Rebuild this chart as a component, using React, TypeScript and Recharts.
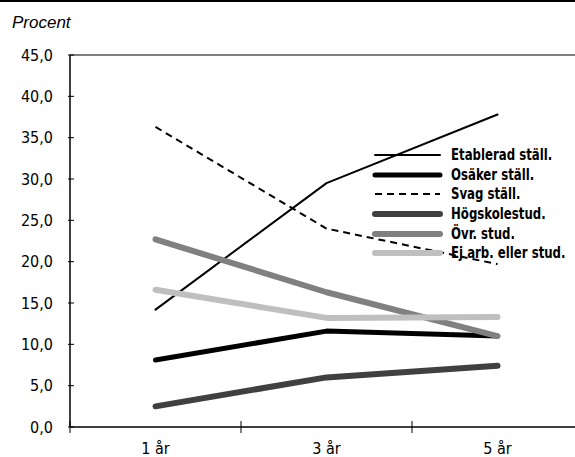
import React from 'react';
import { LineChart, Line, XAxis, YAxis, Legend, ReferenceLine } from 'recharts';

const periods = ['1 år', '3 år', '5 år'];
const etablerad = [14.2, 29.5, 37.8];
const osaker = [8.1, 11.6, 11.0];
const svag = [36.3, 24.0, 19.7];
const hogskole = [2.5, 6.0, 7.4];
const ovrStud = [22.7, 16.3, 11.0];
const ejArb = [16.6, 13.2, 13.3];
const yTicks = [0, 5, 10, 15, 20, 25, 30, 35, 40, 45];

const series = [
  { key: 'etablerad', name: 'Etablerad ställ.', values: etablerad, color: '#000000', width: 2, dash: undefined },
  { key: 'osaker', name: 'Osäker ställ.', values: osaker, color: '#000000', width: 5, dash: undefined },
  { key: 'svag', name: 'Svag ställ.', values: svag, color: '#000000', width: 2, dash: '7 5' },
  { key: 'hogskole', name: 'Högskolestud.', values: hogskole, color: '#404040', width: 6, dash: undefined },
  { key: 'ovr', name: 'Övr. stud.', values: ovrStud, color: '#808080', width: 6, dash: undefined },
  { key: 'ejarb', name: 'Ej arb. eller stud.', values: ejArb, color: '#bfbfbf', width: 6, dash: undefined },
];

const data = periods.map((p, i) => {
  const row: Record<string, any> = { period: p };
  series.forEach((s) => {
    row[s.key] = s.values[i];
  });
  return row;
});

const FONT = '"Liberation Sans Narrow", "DejaVu Sans Condensed", sans-serif';

const LegendContent = () => (
  <div style={{ fontFamily: FONT, fontWeight: 'bold', fontSize: 15, color: '#000' }}>
    {series.map((s) => (
      <div key={s.key} style={{ display: 'flex', alignItems: 'center', height: 19.7, whiteSpace: 'nowrap' }}>
        <svg width={69} height={12} style={{ display: 'block', overflow: 'visible' }}>
          <line
            x1={2}
            x2={67}
            y1={6}
            y2={6}
            stroke={s.color}
            strokeWidth={s.width}
            strokeDasharray={s.dash}
            strokeLinecap={s.dash ? 'butt' : 'round'}
          />
        </svg>
        <span
          style={{
            marginLeft: 9,
            display: 'inline-block',
            transform: 'scaleX(0.87)',
            transformOrigin: 'left center',
          }}
        >
          {s.name}
        </span>
      </div>
    ))}
  </div>
);

const fmt = (v: number) => v.toFixed(1).replace('.', ',');

// Category tick: label at the band centre, tick marks at the band boundaries.
const CatTick = (props: any) => {
  const { x, y, payload, index, visibleTicksCount } = props;
  const half = typeof payload?.offset === 'number' ? payload.offset : 0;
  const left = x - half;
  const right = x + half;
  const isLast = index === (visibleTicksCount ?? periods.length) - 1;
  return (
    <g>
      {half > 0 && <line x1={left} x2={left} y1={y - 6} y2={y + 6} stroke="#000" strokeWidth={1} />}
      {half > 0 && isLast && <line x1={right} x2={right} y1={y - 6} y2={y + 6} stroke="#000" strokeWidth={1} />}
      <text x={x} y={y + 16} dy="0.71em" textAnchor="middle" fill="#000" fontFamily={FONT} fontSize={16}>
        {payload.value}
      </text>
    </g>
  );
};

export default function App() {
  return (
    <div style={{ position: 'fixed', left: 0, top: 0, width: 575, height: 457, overflow: 'hidden', background: '#fff' }}>
      <div style={{ position: 'absolute', left: 0, top: 0, width: 575, height: 2, background: '#000' }} />
      <svg style={{ position: 'absolute', left: 0, top: 0 }} width={200} height={40}>
        <text x={12} y={28} fontFamily='"Liberation Sans", Arial, sans-serif' fontStyle="italic" fontSize={17} fill="#000">
          Procent
        </text>
      </svg>
      <div style={{ position: 'absolute', left: 0, top: 0 }}>
        <LineChart width={600} height={457} data={data} margin={{ top: 55, right: 17, bottom: 29, left: 8 }}>
          <XAxis
            dataKey="period"
            type="category"
            scale="band"
            height={1}
            axisLine={{ stroke: '#000', strokeWidth: 1.5 }}
            tickLine={false}
            tickSize={0}
            tickMargin={0}
            interval={0}
            tick={<CatTick />}
          />
          <YAxis
            domain={[0, 45]}
            ticks={yTicks}
            interval={0}
            width={62}
            tickFormatter={fmt}
            tickSize={6}
            tickMargin={11}
            axisLine={{ stroke: '#000', strokeWidth: 1.5 }}
            tickLine={{ stroke: '#000', strokeWidth: 1, transform: 'translate(4,0)' }}
            tick={{ fill: '#000', fontFamily: FONT, fontSize: 16 }}
          />
          <ReferenceLine y={45} stroke="#7f7f7f" strokeWidth={2} />
          {series.map((s) => (
            <Line
              key={s.key}
              dataKey={s.key}
              name={s.name}
              stroke={s.color}
              strokeWidth={s.width}
              strokeDasharray={s.dash}
              strokeLinecap={s.dash ? 'butt' : 'round'}
              strokeLinejoin="round"
              dot={false}
              activeDot={false}
              isAnimationActive={false}
            />
          ))}
          <Legend
            layout="horizontal"
            verticalAlign="middle"
            align="center"
            content={<LegendContent />}
            wrapperStyle={{ left: 373, top: 145, width: 'auto', height: 'auto' }}
          />
        </LineChart>
      </div>
    </div>
  );
}
